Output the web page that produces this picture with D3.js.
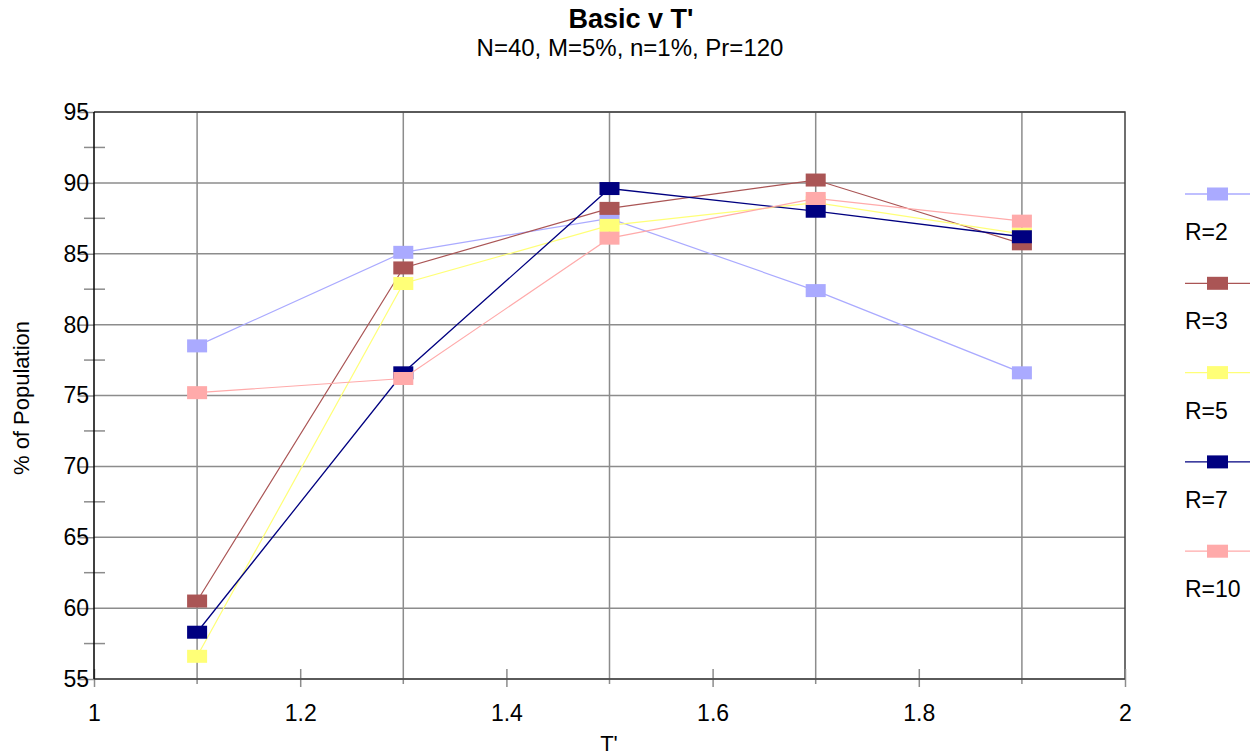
<!DOCTYPE html>
<html lang="en">
<head>
    <meta charset="UTF-8">
    <title>Basic v T'</title>
    <script src="https://d3js.org/d3.v7.min.js"></script>
    <style>
        body {
            margin: 0;
            background: #fff;
            font-family: "Liberation Sans", Arial, sans-serif;
        }
    </style>
</head>
<body>
    <div id="chart"></div>
    <script>
        // data
        const tValues = [1.1, 1.3, 1.5, 1.7, 1.9];
        const seriesNames = ["R=2", "R=3", "R=5", "R=7", "R=10"];
        const r2 = [78.5, 85.1, 87.5, 82.4, 76.6];
        const r3 = [60.5, 84.0, 88.2, 90.2, 85.7];
        const r5 = [56.6, 82.9, 87.0, 88.6, 86.4];
        const r7 = [58.3, 76.6, 89.6, 88.0, 86.2];
        const r10 = [75.2, 76.2, 86.1, 88.9, 87.3];
        const seriesColors = ["#aaaaff", "#aa5555", "#ffff77", "#000080", "#ffaaaa"];
        const xTicks = [1, 1.2, 1.4, 1.6, 1.8, 2];
        const yTicks = [55, 60, 65, 70, 75, 80, 85, 90, 95];

        const allSeries = [r2, r3, r5, r7, r10];

        const width = 1252, height = 754;
        const plotLeft = 94, plotRight = 1125, plotTop = 112, plotBottom = 679;
        const font = "'Liberation Sans', Arial, sans-serif";

        const svg = d3.select("#chart").append("svg")
            .attr("width", width)
            .attr("height", height);

        const x = d3.scaleLinear().domain([1, 2]).range([plotLeft, plotRight]);
        const y = d3.scaleLinear().domain([55, 95]).range([plotBottom, plotTop]);

        // horizontal grid lines
        svg.append("g")
            .selectAll("line")
            .data(yTicks)
            .enter().append("line")
            .attr("x1", plotLeft).attr("x2", plotRight)
            .attr("y1", d => y(d)).attr("y2", d => y(d))
            .attr("stroke", "#8c8c8c")
            .attr("stroke-width", 1.5);

        // vertical grid lines at the odd tenths
        svg.append("g")
            .selectAll("line")
            .data(tValues)
            .enter().append("line")
            .attr("x1", d => x(d)).attr("x2", d => x(d))
            .attr("y1", plotTop).attr("y2", plotBottom + 5)
            .attr("stroke", "#8c8c8c")
            .attr("stroke-width", 1.5);

        // top and right border
        svg.append("path")
            .attr("d", `M${plotLeft},${plotTop}H${plotRight}V${plotBottom}`)
            .attr("fill", "none")
            .attr("stroke", "#404040")
            .attr("stroke-width", 1.5);

        // y axis: ticks, minor ticks, labels
        const yAxis = d3.axisLeft(y).tickValues(yTicks).tickSize(16);
        const gy = svg.append("g")
            .attr("transform", `translate(${plotLeft},0)`)
            .call(yAxis);
        gy.select(".domain").remove();
        gy.selectAll(".tick line").attr("stroke", "#8c8c8c").attr("stroke-width", 1.5);
        gy.selectAll(".tick text")
            .attr("x", -5)
            .attr("fill", "#000")
            .style("font-size", "23px")
            .style("font-family", font);

        const minorY = d3.range(57.5, 95, 5);
        svg.append("g")
            .selectAll("line")
            .data(minorY)
            .enter().append("line")
            .attr("x1", plotLeft - 10).attr("x2", plotLeft + 11)
            .attr("y1", d => y(d)).attr("y2", d => y(d))
            .attr("stroke", "#8c8c8c")
            .attr("stroke-width", 1.5);

        // x axis
        const xAxis = d3.axisBottom(x).tickValues(xTicks).tickSize(8).tickPadding(18)
            .tickFormat(d3.format("~g"));
        const gx = svg.append("g")
            .attr("transform", `translate(0,${plotBottom})`)
            .call(xAxis);
        gx.select(".domain").remove();
        gx.selectAll(".tick line")
            .attr("y1", -10)
            .attr("stroke", "#8c8c8c").attr("stroke-width", 1.5);
        gx.selectAll(".tick text")
            .attr("fill", "#000")
            .style("font-size", "23px")
            .style("font-family", font);

        svg.append("line")
            .attr("x1", plotLeft).attr("x2", plotRight)
            .attr("y1", plotBottom).attr("y2", plotBottom)
            .attr("stroke", "#404040")
            .attr("stroke-width", 1.5);
        svg.append("line")
            .attr("x1", plotLeft).attr("x2", plotLeft)
            .attr("y1", plotTop).attr("y2", plotBottom)
            .attr("stroke", "#000")
            .attr("stroke-width", 1.5);

        // series lines and markers
        const line = d3.line()
            .x((d, i) => x(tValues[i]))
            .y(d => y(d));

        allSeries.forEach((vals, k) => {
            const g = svg.append("g");
            g.append("path")
                .datum(vals)
                .attr("d", line)
                .attr("fill", "none")
                .attr("stroke", seriesColors[k])
                .attr("stroke-width", k === 3 ? 1.3 : 1.2);
            g.selectAll("rect")
                .data(vals)
                .enter().append("rect")
                .attr("x", (d, i) => x(tValues[i]) - 10)
                .attr("y", d => y(d) - 6.5)
                .attr("width", 20)
                .attr("height", 13)
                .attr("fill", seriesColors[k]);
        });

        // legend
        const legend = svg.append("g");
        seriesNames.forEach((name, k) => {
            const ly = 194 + k * 89.3;
            legend.append("line")
                .attr("x1", 1185).attr("x2", 1250)
                .attr("y1", ly).attr("y2", ly)
                .attr("stroke", seriesColors[k])
                .attr("stroke-width", 1.3);
            legend.append("rect")
                .attr("x", 1207).attr("y", ly - 6.5)
                .attr("width", 21).attr("height", 13)
                .attr("fill", seriesColors[k]);
            legend.append("text")
                .attr("x", 1185).attr("y", ly + 46)
                .style("font-size", "23px")
                .text(name);
        });

        // titles
        svg.append("text")
            .attr("x", 631).attr("y", 28)
            .attr("text-anchor", "middle")
            .style("font-size", "27px")
            .style("font-weight", "bold")
            .text("Basic v T'");
        svg.append("text")
            .attr("x", 630).attr("y", 56)
            .attr("text-anchor", "middle")
            .style("font-size", "24px")
            .text("N=40, M=5%, n=1%, Pr=120");

        svg.append("text")
            .attr("transform", "translate(29,398) rotate(-90)")
            .attr("text-anchor", "middle")
            .style("font-size", "22px")
            .text("% of Population");

        svg.append("text")
            .attr("x", 609).attr("y", 751)
            .attr("text-anchor", "middle")
            .style("font-size", "22px")
            .text("T'");
    </script>
</body>
</html>
